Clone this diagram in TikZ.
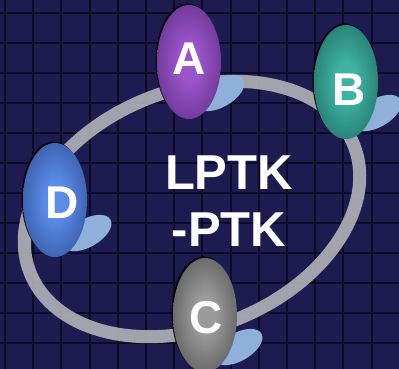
\documentclass[tikz,border=0pt]{standalone}
\usepackage{fontspec}
\setmainfont{Liberation Sans}
\usepackage{tikz}
\usetikzlibrary{shapes.geometric,shadows}

\definecolor{NightBlue}{RGB}{30,27,80}
\definecolor{GridInk}{RGB}{12,10,36}
\definecolor{RingGray}{RGB}{182,182,186}
\definecolor{Glow}{RGB}{143,176,218}
\definecolor{PlumLight}{RGB}{155,85,204}
\definecolor{PlumDark}{RGB}{58,21,88}
\definecolor{TealLight}{RGB}{63,179,163}
\definecolor{TealDark}{RGB}{11,63,58}
\definecolor{AshLight}{RGB}{155,155,155}
\definecolor{AshDark}{RGB}{38,38,38}
\definecolor{SkyLight}{RGB}{91,140,232}
\definecolor{SkyDark}{RGB}{22,42,102}

% one shading per egg
\pgfdeclareradialshading{plumglow}{\pgfpointorigin}{color(0bp)=(PlumLight); color(8bp)=(PlumLight); color(50bp)=(PlumDark); color(70bp)=(PlumDark)}
\pgfdeclareradialshading{tealglow}{\pgfpointorigin}{color(0bp)=(TealLight); color(8bp)=(TealLight); color(50bp)=(TealDark); color(70bp)=(TealDark)}
\pgfdeclareradialshading{ashglow}{\pgfpointorigin}{color(0bp)=(AshLight); color(8bp)=(AshLight); color(50bp)=(AshDark); color(70bp)=(AshDark)}
\pgfdeclareradialshading{skyglow}{\pgfpointorigin}{color(0bp)=(SkyLight); color(8bp)=(SkyLight); color(50bp)=(SkyDark); color(70bp)=(SkyDark)}

% letter moved inside its egg: x, y (down), letter
\newcommand{\eggletter}[3]{\makebox[0pt]{\hspace{#1}\raisebox{#2}[33pt][0pt]{#3}}}

\tikzset{
  gridline/.style={GridInk, line width=2pt},
  ring/.style={RingGray, line width=13pt, draw opacity=.88},
  blob/.style={fill=Glow},
  egg/.style={ellipse, minimum width=64pt, minimum height=114pt, inner sep=0pt,
    text=white, font=\fontsize{46}{46}\selectfont\bfseries, shade, shading=#1,
    drop shadow={shadow xshift=-1.5pt, shadow yshift=1.5pt, fill=black, opacity=.85}},
  title/.style={align=center, text=white, inner sep=0pt, font=\fontsize{49}{57}\selectfont\bfseries}
}

\begin{document}
\begin{tikzpicture}[x=1pt, y=-1pt]
  \useasboundingbox (0,0) rectangle (399,369);
  \fill[NightBlue] (0,0) rectangle (399,369);
  \foreach \i in {0,...,14}
    \draw[gridline] (5+28.2*\i,0) -- (5+28.2*\i,369);
  \foreach \j in {0,...,12}
    \draw[gridline] (0,13+30*\j) -- (399,13+30*\j);

  \draw[ring, rotate around={21.4:(192,209)}] (192,209) ellipse [x radius=174, y radius=119];

  \foreach \x/\y in {220/93, 377/113, 238/347, 87/233}
    \fill[blob, rotate around={30:(\x,\y)}] (\x,\y) ellipse [x radius=27, y radius=14];

  \node[egg=plumglow] (a) at (189,62) {\eggletter{0pt}{4pt}{A}};
  \node[egg=tealglow] (b) at (346,82) {\eggletter{6pt}{-7pt}{B}};
  \node[egg=ashglow] (c) at (205,315) {\eggletter{2pt}{-2pt}{C}};
  \node[egg=skyglow] (d) at (55,200) {\eggletter{14pt}{-2pt}{D}};

  \node[title] (t) at (229,201) {LPTK\\-PTK};
\end{tikzpicture}
\end{document}
